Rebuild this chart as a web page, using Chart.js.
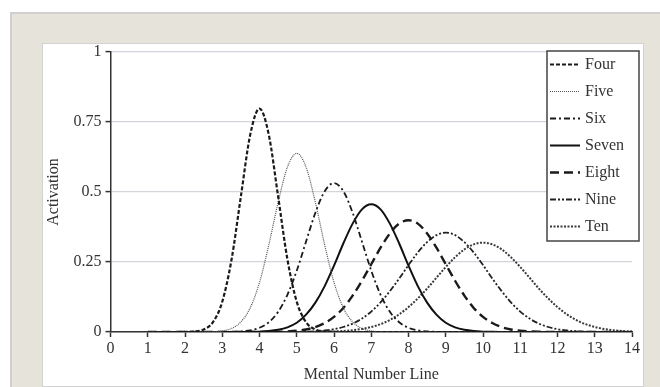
<!DOCTYPE html>
<html>
<head>
<meta charset="utf-8">
<script src="https://cdn.jsdelivr.net/npm/chart.js@4.4.1/dist/chart.umd.min.js"></script>
<style>
  html, body { margin: 0; padding: 0; background: #fff; }
  body { width: 660px; height: 387px; position: relative; overflow: hidden; }
  .frame { position: absolute; left: 10px; top: 12px; width: 660px; height: 380px; background: #e6e3da; border-left: 2px solid #d0d0d0; border-top: 2px solid #d0d0d0; }
  .panel { position: absolute; left: 42px; top: 43px; width: 600px; height: 342px; background: #fff; border: 1px solid #d2d2d2; }
  .wrap { position: absolute; left: 0; top: 0; width: 660px; height: 387px; }
</style>
</head>
<body>
<div class="frame"></div>
<div class="panel"></div>
<div class="wrap"><canvas id="c"></canvas></div>
<script>
// positions on the mental number line (x), sampled every quarter
const xs = [1, 1.25, 1.5, 1.75, 2, 2.25, 2.5, 2.75, 3, 3.25, 3.5, 3.75, 4, 4.25, 4.5, 4.75, 5, 5.25, 5.5, 5.75,
  6, 6.25, 6.5, 6.75, 7, 7.25, 7.5, 7.75, 8, 8.25, 8.5, 8.75, 9, 9.25, 9.5, 9.75, 10, 10.25, 10.5, 10.75,
  11, 11.25, 11.5, 11.75, 12, 12.25, 12.5, 12.75, 13, 13.25, 13.5, 13.75, 14];

const labels = ["Four", "Five", "Six", "Seven", "Eight", "Nine", "Ten"];

// activation
const four = [0, 0, 0, 0, 0.0003, 0.0017, 0.009, 0.035, 0.108, 0.259, 0.484, 0.704, 0.798, 0.704, 0.484, 0.259,
  0.108, 0.035, 0.009, 0.0017, 0.0003, 0, 0, 0, 0, 0, 0, 0, 0, 0, 0, 0, 0, 0, 0, 0, 0, 0, 0, 0,
  0, 0, 0, 0, 0, 0, 0, 0, 0, 0, 0, 0, 0];
const five = [0, 0, 0, 0, 0, 0, 0.0002, 0.001, 0.0038, 0.0127, 0.036, 0.086, 0.177, 0.311, 0.463, 0.589,
  0.638, 0.589, 0.463, 0.311, 0.177, 0.086, 0.036, 0.0127, 0.0038, 0.001, 0.0002, 0, 0, 0, 0, 0, 0, 0, 0, 0, 0, 0, 0, 0,
  0, 0, 0, 0, 0, 0, 0, 0, 0, 0, 0, 0, 0];
const six = [0, 0, 0, 0, 0, 0, 0, 0, 0.0002, 0.0006, 0.0021, 0.0059, 0.0152, 0.035, 0.072, 0.133,
  0.219, 0.323, 0.426, 0.503, 0.532, 0.503, 0.426, 0.323, 0.219, 0.133, 0.072, 0.035, 0.0152, 0.0059, 0.0021, 0.0006,
  0.0002, 0, 0, 0, 0, 0, 0, 0, 0, 0, 0, 0, 0, 0, 0, 0, 0, 0, 0, 0, 0];
const seven = [0, 0, 0, 0, 0, 0, 0, 0, 0, 0, 0.0002, 0.0005, 0.0013, 0.0033, 0.0077, 0.0167,
  0.033, 0.062, 0.105, 0.164, 0.237, 0.316, 0.387, 0.438, 0.456, 0.438, 0.387, 0.316, 0.237, 0.164, 0.105, 0.062,
  0.033, 0.0167, 0.0077, 0.0033, 0.0013, 0.0005, 0.0002, 0, 0, 0, 0, 0, 0, 0, 0, 0, 0, 0, 0, 0, 0];
const eight = [0, 0, 0, 0, 0, 0, 0, 0, 0, 0, 0, 0, 0.0001, 0.0004, 0.0009, 0.002,
  0.0044, 0.0091, 0.0175, 0.032, 0.054, 0.086, 0.13, 0.183, 0.242, 0.301, 0.352, 0.387, 0.399, 0.387, 0.352, 0.301,
  0.242, 0.183, 0.13, 0.086, 0.054, 0.032, 0.0175, 0.0091, 0.0044, 0.002, 0.0009, 0.0004, 0.0001, 0, 0, 0, 0, 0, 0, 0, 0];
const nine = [0, 0, 0, 0, 0, 0, 0, 0, 0, 0, 0, 0, 0, 0, 0.0001, 0.0003,
  0.0006, 0.0014, 0.0028, 0.0055, 0.0101, 0.0179, 0.03, 0.048, 0.073, 0.106, 0.146, 0.191, 0.239, 0.284, 0.321, 0.346,
  0.355, 0.346, 0.321, 0.284, 0.239, 0.191, 0.146, 0.106, 0.073, 0.048, 0.03, 0.0179, 0.0101, 0.0055, 0.0028, 0.0014,
  0.0006, 0.0003, 0.0001, 0, 0];
const ten = [0, 0, 0, 0, 0, 0, 0, 0, 0, 0, 0, 0, 0, 0, 0, 0,
  0.0001, 0.0002, 0.0005, 0.001, 0.0019, 0.0035, 0.0063, 0.0109, 0.0179, 0.028, 0.043, 0.063, 0.089, 0.12, 0.155, 0.194,
  0.232, 0.267, 0.295, 0.313, 0.319, 0.313, 0.295, 0.267, 0.232, 0.194, 0.155, 0.12, 0.089, 0.063, 0.043, 0.028,
  0.0179, 0.0109, 0.0063, 0.0035, 0.0019];

const xTicks = [0, 1, 2, 3, 4, 5, 6, 7, 8, 9, 10, 11, 12, 13, 14];
const yTicks = [0, 0.25, 0.5, 0.75, 1];
const yTickLabels = ["0", "0.25", "0.5", "0.75", "1"];

const series = [four, five, six, seven, eight, nine, ten];
const styles = [
  { color: "#1a1a1a", width: 2.2, dash: [4, 2] },
  { color: "#555", width: 1.2, dash: [1, 1] },
  { color: "#1a1a1a", width: 1.8, dash: [6, 3, 2, 3] },
  { color: "#111", width: 2, dash: [] },
  { color: "#1a1a1a", width: 2.4, dash: [9, 5] },
  { color: "#222", width: 1.8, dash: [6, 2, 2, 2, 2, 2] },
  { color: "#3a3a3a", width: 2, dash: [2, 1.5] },
];

const SERIF = "'Liberation Serif', 'Times New Roman', serif";
const INK = "#333";

// boxed legend in the top-right corner of the plot
const boxLegend = {
  id: "boxLegend",
  afterDraw(chart) {
    const ctx = chart.ctx;
    const x0 = 547, y0 = 51, w = 92, h = 190;
    ctx.save();
    ctx.fillStyle = "#fff";
    ctx.fillRect(x0, y0, w, h);
    ctx.strokeStyle = "#444";
    ctx.lineWidth = 1.5;
    ctx.strokeRect(x0, y0, w, h);
    ctx.font = "16px " + SERIF;
    ctx.textBaseline = "middle";
    chart.data.datasets.forEach((ds, i) => {
      const y = y0 + 13.5 + i * 27;
      ctx.beginPath();
      ctx.strokeStyle = ds.borderColor;
      ctx.lineWidth = ds.borderWidth;
      ctx.setLineDash(ds.borderDash);
      ctx.moveTo(x0 + 3, y);
      ctx.lineTo(x0 + 33, y);
      ctx.stroke();
      ctx.setLineDash([]);
      ctx.fillStyle = INK;
      ctx.fillText(ds.label, x0 + 38, y);
    });
    ctx.restore();
  },
};

new Chart(document.getElementById("c"), {
  type: "line",
  data: {
    datasets: series.map((vals, i) => ({
      label: labels[i],
      data: vals.map((v, j) => ({ x: xs[j], y: v })),
      borderColor: styles[i].color,
      borderWidth: styles[i].width,
      borderDash: styles[i].dash,
      pointRadius: 0,
      fill: false,
      cubicInterpolationMode: "monotone",
    })),
  },
  options: {
    responsive: true,
    maintainAspectRatio: false,
    animation: false,
    layout: { padding: { top: 52, right: 28, bottom: 0, left: 0 } },
    plugins: { legend: { display: false }, tooltip: { enabled: false } },
    scales: {
      x: {
        type: "linear", min: 0, max: 14,
        afterBuildTicks: (s) => { s.ticks = xTicks.map((v) => ({ value: v })); },
        afterFit: (s) => { s.height = 55; },
        grid: { drawOnChartArea: false, drawTicks: true, tickLength: 5, tickColor: "#333", tickWidth: 1.5 },
        border: { color: "#333", width: 1.5 },
        ticks: { color: INK, font: { family: SERIF, size: 16 }, padding: 2, maxRotation: 0 },
        title: { display: true, text: "Mental Number Line", color: INK, font: { family: SERIF, size: 16 }, padding: { top: 0, bottom: 2.4 } },
      },
      y: {
        min: 0, max: 1,
        afterBuildTicks: (s) => { s.ticks = yTicks.map((v) => ({ value: v })); },
        afterFit: (s) => { s.width = 110.5; },
        grid: { color: "#d4d4da", lineWidth: 1.2, tickLength: 5, tickColor: "#333", tickWidth: 1.5 },
        border: { color: "#333", width: 1.5 },
        ticks: { color: INK, font: { family: SERIF, size: 16 }, padding: 4, callback: (v) => yTickLabels[yTicks.indexOf(v)] },
        title: { display: true, text: "Activation", color: INK, font: { family: SERIF, size: 16 }, padding: { top: 44.4, bottom: 0 } },
      },
    },
  },
  plugins: [boxLegend],
});
</script>
</body>
</html>
